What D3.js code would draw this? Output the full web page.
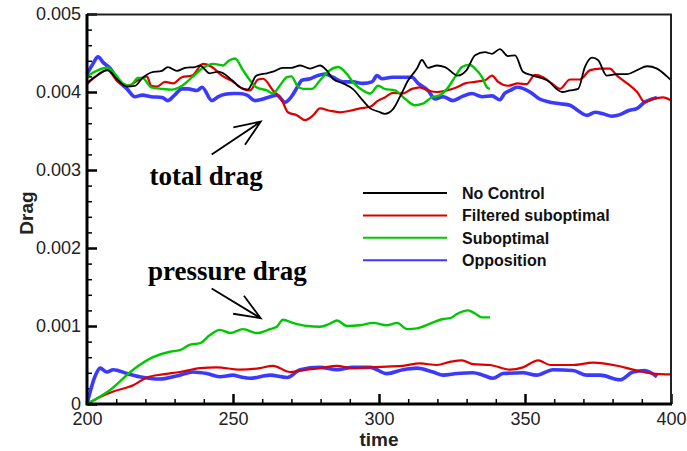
<!DOCTYPE html>
<html>
<head>
<meta charset="utf-8">
<script src="https://cdn.jsdelivr.net/npm/d3@7"></script>
<style>
    body { margin: 0; background: #fff; }
    #chart-area svg { display: block; }
</style>
</head>
<body>
<div id="chart-area"></div>
<script>
// total drag, No Control
var noControlTime = [200, 203, 207, 210.6, 213.7, 216.4, 219, 222, 225.6, 227.7, 230.8, 233.6, 237, 238.7, 242, 245, 249.7, 252.4, 255, 258, 261.6, 263.7, 267, 270, 273, 276.4, 279.8, 282, 284.2, 287.7, 291, 294.5, 297, 299.7, 302, 304.8, 307.2, 310, 313, 314.7, 316.8, 319.9, 322.6, 327, 330, 332.9, 336.3, 338.7, 341.4, 344.2, 346.6, 349.3, 352.7, 357.5, 362.7, 365.4, 368.2, 370.5, 373, 375, 378, 381.5, 385, 388.4, 391.8, 395.2, 398.6, 400];
var noControlTotal = [0.00412, 0.0042, 0.00428, 0.00415, 0.00407, 0.00408, 0.00418, 0.00425, 0.00427, 0.00432, 0.00427, 0.00431, 0.00432, 0.00434, 0.00424, 0.00426, 0.00415, 0.00406, 0.00403, 0.00421, 0.00424, 0.00426, 0.00431, 0.00431, 0.00434, 0.0043, 0.00434, 0.00428, 0.00417, 0.00411, 0.00404, 0.00389, 0.00379, 0.00375, 0.00372, 0.00378, 0.00394, 0.00415, 0.0043, 0.00441, 0.00431, 0.00434, 0.00432, 0.00421, 0.00428, 0.00447, 0.00451, 0.00449, 0.00455, 0.00446, 0.00447, 0.00426, 0.00421, 0.00415, 0.004, 0.00402, 0.00404, 0.00432, 0.00444, 0.00441, 0.00421, 0.00423, 0.00423, 0.00428, 0.00433, 0.0043, 0.0042, 0.00415];

// Filtered suboptimal
var filteredTime = [200, 203, 207, 210.6, 214, 217.5, 220.5, 222, 224, 226.7, 229.5, 232.5, 236, 239.7, 242.8, 246.2, 249.7, 253.4, 255.8, 258.6, 260.3, 263.7, 266.8, 268.8, 272, 274.7, 277.4, 279.8, 283.2, 286.6, 290, 293.5, 297, 299.7, 302, 304.8, 308, 311.3, 314, 316.8, 320, 323.3, 326.7, 329.5, 332.9, 336.3, 338.7, 340.8, 344.2, 347.6, 350.5, 353.4, 356.2, 359.2, 362, 365.4, 368.8, 372.3, 375.7, 379, 381.5, 385, 388.4, 391, 393.8, 397.3, 400];
var filteredTotal = [0.0041, 0.0042, 0.00428, 0.00413, 0.00408, 0.00415, 0.0042, 0.00408, 0.00407, 0.00413, 0.00411, 0.00419, 0.00421, 0.00436, 0.00432, 0.00421, 0.00414, 0.00404, 0.00402, 0.00416, 0.00417, 0.00402, 0.00389, 0.00374, 0.0037, 0.00364, 0.0037, 0.00379, 0.00376, 0.00374, 0.00376, 0.00379, 0.00381, 0.00389, 0.00393, 0.00399, 0.00398, 0.00404, 0.00406, 0.00402, 0.004, 0.00402, 0.00406, 0.00411, 0.00413, 0.00415, 0.00421, 0.00413, 0.00408, 0.00411, 0.0041, 0.00422, 0.00419, 0.00411, 0.00404, 0.00416, 0.00416, 0.00428, 0.0043, 0.0043, 0.00421, 0.00411, 0.004, 0.00387, 0.00391, 0.00393, 0.00389];
var filteredPressureTime = [200, 204.5, 209, 215.8, 220.5, 226, 231.8, 238.7, 244.5, 252.4, 259.2, 263.7, 269.5, 275.3, 279.8, 285.6, 291, 297, 302.7, 308.2, 314, 319.9, 324.3, 328.4, 332.2, 338, 344.9, 349.3, 354.5, 358.6, 366.4, 373.3, 381.5, 387, 393.8, 400];
var filteredPressure = [0, 0.00009, 0.00016, 0.00024, 0.00034, 0.00038, 0.00041, 0.00046, 0.00047, 0.00044, 0.00046, 0.00049, 0.00041, 0.00044, 0.00046, 0.00049, 0.00046, 0.00047, 0.00048, 0.00049, 0.00052, 0.0005, 0.00054, 0.00056, 0.00051, 0.0005, 0.00044, 0.00047, 0.00056, 0.0005, 0.0005, 0.00053, 0.00049, 0.00044, 0.00039, 0.00038];

// Suboptimal
var suboptimalTime = [200, 203.8, 207, 209.6, 212.3, 214.7, 217.5, 219, 222, 225.7, 229, 232.5, 236, 239.4, 243.2, 246.6, 248.5, 250.7, 253.4, 255.8, 258, 261.6, 263.7, 266, 268.5, 270, 272, 274, 277, 279.8, 283.2, 286, 289, 291, 294.5, 297, 299.7, 302, 305.5, 309, 312.3, 315, 318, 320.9, 323.3, 326, 328.4, 331, 332.9, 335.3, 337, 338];
var suboptimalTotal = [0.0042, 0.00428, 0.00431, 0.00423, 0.00411, 0.00408, 0.00418, 0.00418, 0.00406, 0.00404, 0.00403, 0.00408, 0.00419, 0.0043, 0.00436, 0.00434, 0.0044, 0.00443, 0.00428, 0.00415, 0.00406, 0.00402, 0.00398, 0.00408, 0.00419, 0.0042, 0.00408, 0.00404, 0.00404, 0.00415, 0.00428, 0.00432, 0.00423, 0.00413, 0.00402, 0.00398, 0.00408, 0.00404, 0.00402, 0.00391, 0.00383, 0.00385, 0.00393, 0.00396, 0.00404, 0.00419, 0.00432, 0.00435, 0.0043, 0.00419, 0.00406, 0.00404];
var suboptimalPressureTime = [200, 207.9, 215.8, 222.6, 228.4, 231.8, 235.3, 238.7, 242, 245.5, 249, 253.4, 258.2, 262.7, 265, 267.1, 270.5, 275.3, 279.8, 283.2, 285.6, 289, 293.5, 298, 302.7, 306.2, 309.6, 313, 317.5, 321.9, 324.3, 327, 330.5, 332.9, 335.3, 338];
var suboptimalPressure = [0, 0.00018, 0.00044, 0.0006, 0.00067, 0.00069, 0.00076, 0.00078, 0.00088, 0.00095, 0.00091, 0.00096, 0.00091, 0.00096, 0.00099, 0.00108, 0.00104, 0.001, 0.00099, 0.00103, 0.00107, 0.001, 0.00101, 0.00104, 0.00101, 0.00104, 0.00096, 0.00097, 0.00103, 0.00109, 0.0011, 0.00116, 0.0012, 0.00116, 0.00111, 0.00111];

// Opposition
var oppositionTime = [200, 202, 203.8, 205.5, 208, 210.6, 213.7, 216.4, 219, 222, 225.7, 227.7, 230, 232.5, 234.6, 237.7, 239.4, 242.8, 245, 247.3, 250, 252, 254.8, 257.5, 260.3, 262.7, 265, 267.8, 270, 272, 273.6, 276.4, 279, 281.5, 284.2, 287.7, 291, 294.5, 297.6, 299.3, 301, 304.5, 308, 311.3, 313.4, 316.8, 319.2, 322, 325.3, 328.4, 331.8, 335.3, 338.7, 341.4, 343, 344.9, 347.3, 351.7, 355, 358.6, 362, 365.4, 368.2, 371.2, 374, 376.7, 379.8, 382.5, 385.3, 388.4, 391, 393.5, 395.2];
var oppositionTotal = [0.00423, 0.00436, 0.00445, 0.00438, 0.0043, 0.00415, 0.00404, 0.00394, 0.00396, 0.00394, 0.00393, 0.00389, 0.00396, 0.00404, 0.00404, 0.00402, 0.00406, 0.00389, 0.00394, 0.00397, 0.00398, 0.00398, 0.00396, 0.00389, 0.00391, 0.00394, 0.00396, 0.00387, 0.00394, 0.00406, 0.00415, 0.00417, 0.00421, 0.00423, 0.00419, 0.00413, 0.00413, 0.00411, 0.00413, 0.00421, 0.00417, 0.00419, 0.00419, 0.00419, 0.00411, 0.00402, 0.00391, 0.00394, 0.00389, 0.00394, 0.00398, 0.00394, 0.00395, 0.0039, 0.00398, 0.00402, 0.00406, 0.004, 0.00391, 0.00387, 0.00385, 0.00383, 0.00376, 0.0037, 0.00374, 0.00372, 0.00369, 0.00371, 0.00376, 0.00379, 0.00387, 0.00391, 0.00393];
var oppositionPressureTime = [200, 202.7, 204.5, 206.8, 209, 213.7, 218, 225, 231.8, 236.3, 241, 245.5, 250, 252.4, 255.8, 262.7, 268.5, 273, 279.8, 285.6, 291, 297, 302.7, 308.2, 313, 318.5, 322, 326.7, 332.2, 335.6, 339, 342.5, 349.3, 354, 359.6, 366.4, 371.2, 375.7, 382.5, 387, 391, 395.2];
var oppositionPressure = [0, 0.00035, 0.00046, 0.00041, 0.00044, 0.00039, 0.00035, 0.00032, 0.00037, 0.00041, 0.00039, 0.00035, 0.00037, 0.00035, 0.00033, 0.00037, 0.00034, 0.00044, 0.00047, 0.00044, 0.00047, 0.00047, 0.00039, 0.00044, 0.00046, 0.00041, 0.00037, 0.00039, 0.0004, 0.00037, 0.00033, 0.00039, 0.0004, 0.00037, 0.00044, 0.00043, 0.00037, 0.00037, 0.00031, 0.00041, 0.00043, 0.00035];

// axes
var xTicks = [200, 250, 300, 350, 400];
var xTickLabels = ["200", "250", "300", "350", "400"];
var yTicks = [0, 0.001, 0.002, 0.003, 0.004, 0.005];
var yTickLabels = ["0", "0.001", "0.002", "0.003", "0.004", "0.005"];

var legendNames = ["No Control", "Filtered suboptimal", "Suboptimal", "Opposition"];
var legendColors = ["#000000", "#dd0000", "#00c800", "#3a3aff"];

// annotation text and arrows, in data units [time, drag]
var noteTexts = ["total drag", "pressure drag"];
var noteAnchors = [[221.4, 0.00281], [220.9, 0.00159]];
var arrowFrom = [[242.7, 0.0032], [242.7, 0.00148]];
var arrowTo = [[259.5, 0.00362], [259.5, 0.00110]];


function DragChart() {
    var self = this;
    self.init();
}

DragChart.prototype.init = function() {
    var self = this;

    self.width = 687;
    self.height = 451;

    self.svg = d3.select("#chart-area").append("svg")
        .attr("width", self.width)
        .attr("height", self.height);

    self.x = d3.scaleLinear().domain([200, 400]).range([87, 671]);
    self.y = d3.scaleLinear().domain([0, 0.005]).range([404, 14]);

    self.renderAxes();
    self.renderLines();
    self.renderNotes();
    self.renderLegend();
    self.renderFrame();
};

DragChart.prototype.renderAxes = function() {
    var self = this;

    // minor ticks first
    var xMinor = d3.range(200, 401, 10).filter(function(d) { return d % 50 !== 0; });
    var yMinor = d3.range(0, 26).map(function(d) { return d * 0.0002; })
        .filter(function(d, i) { return i % 5 !== 0; });

    self.svg.append("g")
        .attr("transform", "translate(0, 404)")
        .call(d3.axisBottom(self.x).tickValues(xMinor).tickSize(-5).tickFormat(""))
        .call(function(g) { g.select(".domain").remove(); });

    self.svg.append("g")
        .attr("transform", "translate(87, 0)")
        .call(d3.axisLeft(self.y).tickValues(yMinor).tickSize(-5).tickFormat(""))
        .call(function(g) { g.select(".domain").remove(); });

    var xAxis = d3.axisBottom(self.x)
        .tickValues(xTicks)
        .tickSize(-10)
        .tickPadding(8)
        .tickFormat(function(d, i) { return xTickLabels[i]; });

    self.svg.append("g")
        .attr("class", "xAxis")
        .attr("transform", "translate(0, 404)")
        .call(xAxis)
        .call(function(g) { g.select(".domain").remove(); });

    var yAxis = d3.axisLeft(self.y)
        .tickValues(yTicks)
        .tickSize(-10)
        .tickPadding(6)
        .tickFormat(function(d, i) { return yTickLabels[i]; });

    self.svg.append("g")
        .attr("class", "yAxis")
        .attr("transform", "translate(87, 0)")
        .call(yAxis)
        .call(function(g) { g.select(".domain").remove(); });

    self.svg.selectAll(".tick line")
        .attr("stroke", "#000")
        .attr("stroke-width", 1.5);
    self.svg.selectAll(".xAxis .tick line, .yAxis .tick line")
        .attr("stroke-width", 2.5);
    self.svg.selectAll(".tick text")
        .attr("font-family", "'Liberation Sans', Arial, sans-serif")
        .attr("font-size", 18)
        .attr("fill", "#222");

    self.svg.append("text")
        .attr("x", self.x(300))
        .attr("y", 446)
        .attr("text-anchor", "middle")
        .attr("font-family", "'Liberation Sans', Arial, sans-serif")
        .attr("font-weight", "bold")
        .attr("font-size", 19)
        .attr("fill", "#222")
        .text("time");

    self.svg.append("text")
        .attr("transform", "translate(33, 213) rotate(-90)")
        .attr("text-anchor", "middle")
        .attr("font-family", "'Liberation Sans', Arial, sans-serif")
        .attr("font-weight", "bold")
        .attr("font-size", 19)
        .attr("fill", "#222")
        .text("Drag");
};

DragChart.prototype.renderLines = function() {
    var self = this;

    var series = [
        { t: noControlTime, v: noControlTotal, color: legendColors[0], w: 1.8 },
        { t: filteredTime, v: filteredTotal, color: legendColors[1], w: 2.2 },
        { t: suboptimalTime, v: suboptimalTotal, color: legendColors[2], w: 2.4 },
        { t: oppositionTime, v: oppositionTotal, color: legendColors[3], w: 3.6 },
        { t: filteredPressureTime, v: filteredPressure, color: legendColors[1], w: 2.2 },
        { t: suboptimalPressureTime, v: suboptimalPressure, color: legendColors[2], w: 2.4 },
        { t: oppositionPressureTime, v: oppositionPressure, color: legendColors[3], w: 3.6 }
    ];

    var line = d3.line()
        .x(function(d) { return self.x(d[0]); })
        .y(function(d) { return self.y(d[1]); })
        .curve(d3.curveMonotoneX);

    // draw order: opposition under the others like the original
    var order = [3, 6, 1, 4, 2, 5, 0];

    self.svg.append("g")
        .selectAll("path")
        .data(order.map(function(i) { return series[i]; }))
        .enter()
        .append("path")
        .attr("fill", "none")
        .attr("stroke", function(d) { return d.color; })
        .attr("stroke-width", function(d) { return d.w; })
        .attr("stroke-linejoin", "round")
        .attr("d", function(d) {
            return line(d.t.map(function(t, i) { return [t, d.v[i]]; }));
        });
};

DragChart.prototype.renderNotes = function() {
    var self = this;

    for (var i = 0; i < noteTexts.length; i++) {
        self.svg.append("text")
            .attr("x", self.x(noteAnchors[i][0]))
            .attr("y", self.y(noteAnchors[i][1]))
            .attr("font-family", "'Liberation Serif', 'Times New Roman', serif")
            .attr("font-weight", "bold")
            .attr("font-size", 27)
            .attr("fill", "#000")
            .text(noteTexts[i]);

        var x0 = self.x(arrowFrom[i][0]), y0 = self.y(arrowFrom[i][1]);
        var x1 = self.x(arrowTo[i][0]), y1 = self.y(arrowTo[i][1]);
        var ang = Math.atan2(y0 - y1, x0 - x1);
        var len = 28, spread = 22 * Math.PI / 180;

        var p = d3.path();
        p.moveTo(x0, y0);
        p.lineTo(x1, y1);
        p.moveTo(x1 + len * Math.cos(ang + spread), y1 + len * Math.sin(ang + spread));
        p.lineTo(x1, y1);
        p.lineTo(x1 + len * Math.cos(ang - spread), y1 + len * Math.sin(ang - spread));

        self.svg.append("path")
            .attr("d", p.toString())
            .attr("fill", "none")
            .attr("stroke", "#000")
            .attr("stroke-width", 1.8);
    }
};

DragChart.prototype.renderLegend = function() {
    var self = this;

    var rows = self.svg.append("g")
        .selectAll("g")
        .data(legendNames)
        .enter()
        .append("g")
        .attr("transform", function(d, i) { return "translate(363, " + (193 + i * 22.4) + ")"; });

    rows.append("line")
        .attr("x1", 0)
        .attr("x2", 84)
        .attr("stroke", function(d, i) { return legendColors[i]; })
        .attr("stroke-width", 2);

    rows.append("text")
        .attr("x", 99)
        .attr("dy", "0.36em")
        .attr("font-family", "'Liberation Sans', Arial, sans-serif")
        .attr("font-weight", "bold")
        .attr("font-size", 16)
        .attr("fill", "#111")
        .text(function(d) { return d; });
};

DragChart.prototype.renderFrame = function() {
    var self = this;

    self.svg.append("path")
        .attr("d", "M87,14.5H671V404")
        .attr("fill", "none")
        .attr("stroke", "#222")
        .attr("stroke-width", 2);

    self.svg.append("path")
        .attr("d", "M87,14V404H672")
        .attr("fill", "none")
        .attr("stroke", "#000")
        .attr("stroke-width", 3);
};

new DragChart();
</script>
</body>
</html>
